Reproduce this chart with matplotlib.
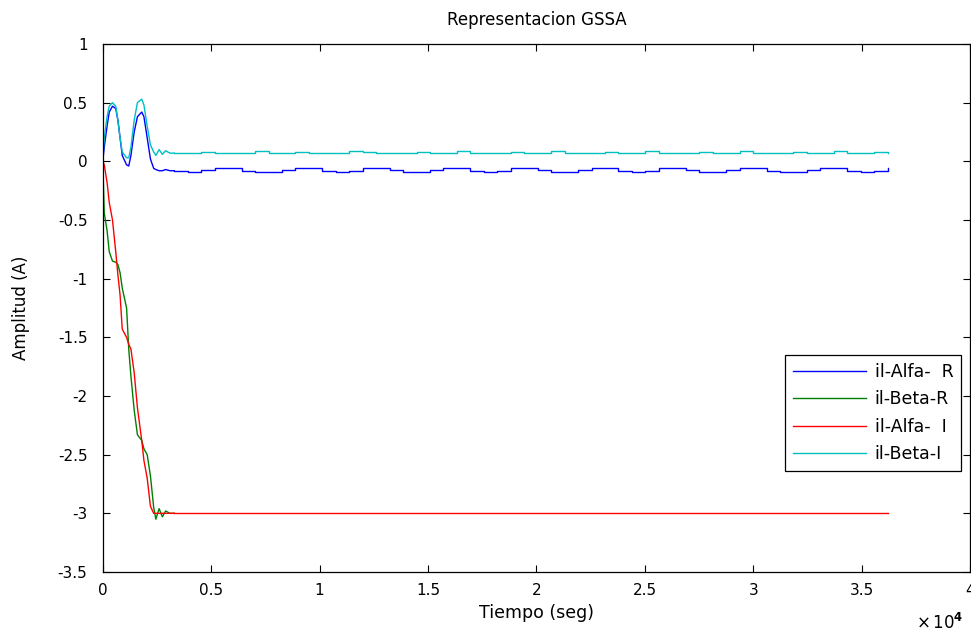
import numpy as np
import matplotlib
matplotlib.use('Agg')
import matplotlib.pyplot as plt

# time in units of 1e4 s
t_trans = [0.0, 0.007, 0.02, 0.03, 0.045, 0.06, 0.07, 0.08, 0.09, 0.11, 0.12,
           0.13, 0.145, 0.16, 0.18, 0.19, 0.205, 0.22, 0.235, 0.245, 0.26,
           0.275, 0.29, 0.31, 0.33]

alfa_r_trans = [0.0, 0.12, 0.3, 0.42, 0.47, 0.45, 0.35, 0.2, 0.05, -0.03, -0.04,
                0.05, 0.25, 0.38, 0.42, 0.38, 0.2, 0.02, -0.06, -0.07, -0.08,
                -0.08, -0.07, -0.08, -0.08]
beta_r_trans = [0.0, -0.44, -0.59, -0.77, -0.85, -0.86, -0.88, -0.95, -1.08, -1.25, -1.6,
                -1.83, -2.12, -2.33, -2.38, -2.45, -2.5, -2.68, -2.95, -3.05, -2.96,
                -3.03, -2.98, -3.0, -3.0]
alfa_i_trans = [0.0, -0.03, -0.18, -0.35, -0.5, -0.77, -0.97, -1.14, -1.43, -1.5, -1.56,
                -1.6, -1.8, -2.1, -2.38, -2.55, -2.7, -2.94, -3.0, -3.0, -3.0,
                -3.0, -3.0, -3.0, -3.0]
beta_i_trans = [0.02, 0.2, 0.38, 0.47, 0.5, 0.47, 0.35, 0.2, 0.08, 0.03, 0.03,
                0.12, 0.35, 0.5, 0.53, 0.48, 0.3, 0.14, 0.08, 0.05, 0.1,
                0.06, 0.09, 0.07, 0.07]

# steady state samples from 0.33e4 to 3.62e4
alfa_r_ss = [-0.08, -0.09, -0.07, -0.06, -0.06, -0.08, -0.09, -0.09, -0.07, -0.06,
             -0.06, -0.08, -0.09, -0.08, -0.06, -0.06, -0.07, -0.09, -0.09, -0.07,
             -0.06, -0.06, -0.08, -0.09, -0.08, -0.06, -0.06, -0.07, -0.09, -0.09,
             -0.07, -0.06, -0.06, -0.08, -0.09, -0.08, -0.06, -0.06, -0.07, -0.09,
             -0.09, -0.07, -0.06, -0.06, -0.08, -0.09, -0.09, -0.07, -0.06, -0.06,
             -0.08, -0.09, -0.08, -0.06]
beta_i_ss = [0.07, 0.07, 0.08, 0.07, 0.07, 0.07, 0.09, 0.07, 0.07, 0.08,
             0.07, 0.07, 0.07, 0.09, 0.08, 0.07, 0.07, 0.07, 0.08, 0.07,
             0.07, 0.09, 0.07, 0.07, 0.07, 0.08, 0.07, 0.07, 0.09, 0.07,
             0.07, 0.07, 0.08, 0.07, 0.07, 0.09, 0.07, 0.07, 0.07, 0.08,
             0.07, 0.07, 0.09, 0.07, 0.07, 0.07, 0.08, 0.07, 0.07, 0.09,
             0.07, 0.07, 0.08, 0.07]
alfa_i_ss_level = -3.0
t_end = 3.62

labels = ['il-Alfa-  R', 'il-Beta-R', 'il-Alfa-  I', 'il-Beta-I']
colors = ['#0000ff', '#008000', '#ff0000', '#00bfbf']

t_ss = np.linspace(0.33, t_end, len(alfa_r_ss))
# il-Beta-R steady part sits under il-Alfa-I (same -3 level), so it is hidden
steady = [alfa_r_ss, None, [alfa_i_ss_level] * len(t_ss), beta_i_ss]
trans = [alfa_r_trans, beta_r_trans, alfa_i_trans, beta_i_trans]

plt.rcParams['font.family'] = ['DejaVu Sans']
fig = plt.figure(figsize=(9.71, 6.34), dpi=100)
ax = fig.add_axes([0.1058, 0.0978, 0.8932, 0.8328])

for yt, ys, c, lab in zip(trans, steady, colors, labels):
    ax.plot(t_trans, yt, color=c, lw=1.0, label=lab)
    if ys is not None:
        ax.plot(t_ss, ys, color=c, lw=1.0, drawstyle='steps-post')

ax.set_xlim(0, 4)
ax.set_ylim(-3.5, 1)
ax.set_xticks(np.arange(0, 4.01, 0.5))
ax.set_xticklabels(['0', '0.5', '1', '1.5', '2', '2.5', '3', '3.5', '4'])
ax.set_yticks(np.arange(-3.5, 1.01, 0.5))
ax.set_yticklabels(['-3.5', '-3', '-2.5', '-2', '-1.5', '-1', '-0.5', '0', '0.5', '1'])
ax.tick_params(direction='in', top=True, right=True, labelsize=11, length=5)
ax.tick_params(axis='y', pad=11)
ax.tick_params(axis='x', pad=8)
for s in ax.spines.values():
    s.set_linewidth(0.9)

ax.set_title('Representacion GSSA', fontsize=12, pad=14)
ax.set_xlabel('Tiempo (seg)', fontsize=12.5, labelpad=4)
ax.set_ylabel('Amplitud (A)', fontsize=12, labelpad=20)
fig.text(0.968, 0.008, r'$\times\,10^{\mathbf{4}}$', fontsize=12, ha='center')

leg = ax.legend(loc='upper left', bbox_to_anchor=(0.787, 0.411), fontsize=12.5,
                fancybox=False, edgecolor='black', framealpha=1,
                handlelength=4.2, borderaxespad=0, labelspacing=0.55,
                borderpad=0.45, handletextpad=0.5)
leg.get_frame().set_linewidth(0.9)

fig.savefig('out.png', dpi=100)
